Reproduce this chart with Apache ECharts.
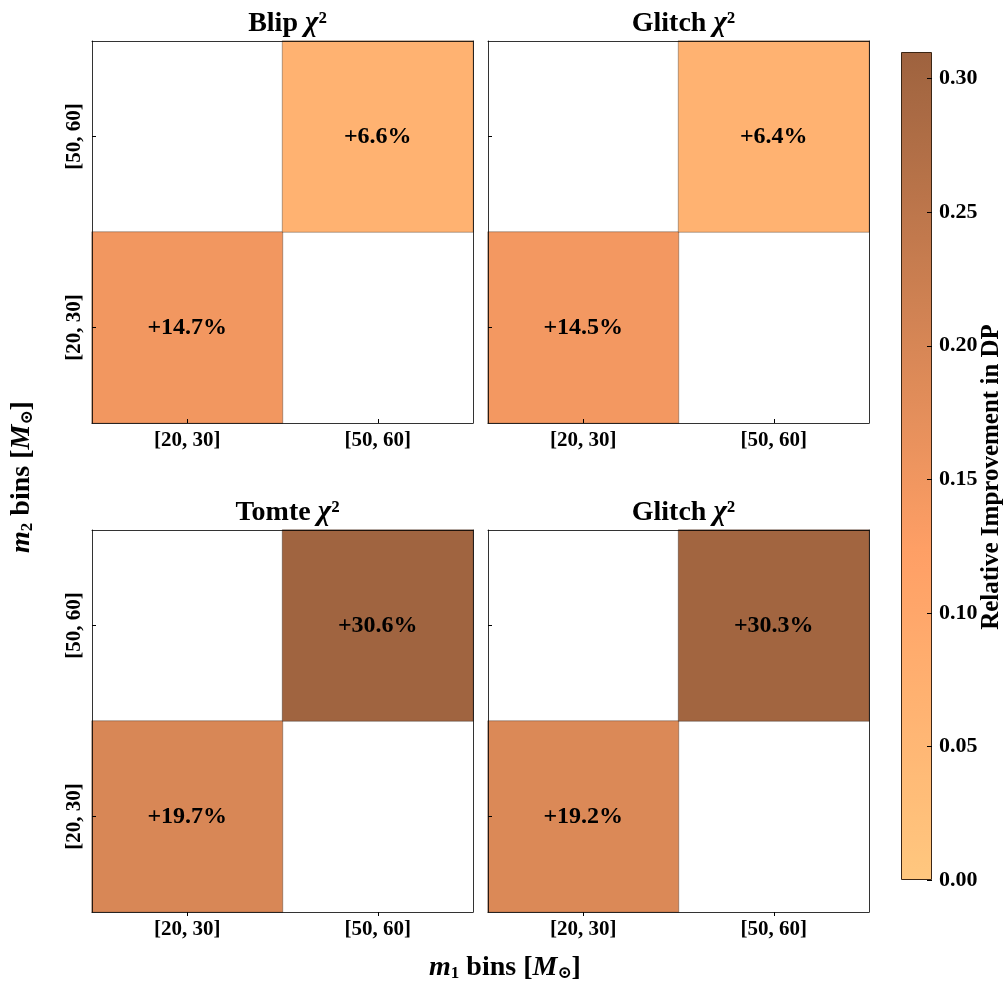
<!DOCTYPE html>
<html>
<head>
<meta charset="utf-8">
<script src="https://cdn.jsdelivr.net/npm/echarts@6/dist/echarts.min.js"></script>
<style>html,body{margin:0;padding:0;background:#fff}#c{width:1007px;height:987px}</style>
</head>
<body>
<div id="c"></div>
<script>
// ---- data ----
const xCats = ['[20, 30]', '[50, 60]'];
const yCats = ['[20, 30]', '[50, 60]'];
const panelTitles = ['Blip', 'Glitch', 'Tomte', 'Glitch'];
const lowBinValues = [0.147, 0.145, 0.197, 0.192];   // m1 [20,30], m2 [20,30]
const highBinValues = [0.066, 0.064, 0.306, 0.303];  // m1 [50,60], m2 [50,60]
const cbMin = 0;
const cbMax = 0.31;
const cbInterval = 0.05;

// ---- style ----
const SERIF = '"Liberation Serif", "DejaVu Serif", serif';
const CMAP_NORM = 0.613; // copper_r normalisation span
function copperR(v) {
  const x = 1 - v / CMAP_NORM;
  const r = Math.min(1, 1.25 * x), g = 0.7812 * x, b = 0.4975 * x;
  return 'rgb(' + Math.round(r * 255) + ',' + Math.round(g * 255) + ',' + Math.round(b * 255) + ')';
}
const N = 40;
const cmapColors = [];
for (let k = 0; k <= N; k++) cmapColors.push(copperR(cbMin + (cbMax - cbMin) * k / N));
const gradStops = cmapColors.map((c, k) => ({ offset: 1 - k / N, color: c })).reverse();

const panels = [
  { left: 92, top: 41 }, { left: 488, top: 41 },
  { left: 92, top: 530 }, { left: 488, top: 530 }
];
const PW = 381, PH = 382;
const SPINE = 'rgba(0,0,0,0.8)';

const grid = [], xAxis = [], yAxis = [], series = [], title = [];
panels.forEach((p, i) => {
  grid.push({ left: p.left, top: p.top, width: PW, height: PH });
  const bottomRow = i >= 2, leftCol = i % 2 === 0;
  xAxis.push({
    type: 'category', data: xCats, gridIndex: i, position: 'bottom', z: 10,
    axisLine: { show: true, lineStyle: { color: SPINE, width: 1 } },
    axisTick: { show: true, alignWithLabel: true, inside: !bottomRow, length: 4, lineStyle: { color: '#000' } },
    axisLabel: { show: true, margin: 7, color: '#000', fontFamily: SERIF, fontWeight: 'bold', fontSize: 21 },
    splitLine: { show: false }
  });
  xAxis.push({
    type: 'category', data: xCats, gridIndex: i, position: 'top', z: 10,
    axisLine: { show: true, lineStyle: { color: SPINE, width: 1 } },
    axisTick: { show: false }, axisLabel: { show: false }, splitLine: { show: false }
  });
  yAxis.push({
    type: 'category', data: yCats, gridIndex: i, position: 'left', z: 10,
    axisLine: { show: true, lineStyle: { color: SPINE, width: 1 } },
    axisTick: { show: true, alignWithLabel: true, inside: true, length: 4, lineStyle: { color: '#000' } },
    axisLabel: { show: leftCol, rotate: 90, margin: 7, color: '#000', fontFamily: SERIF, fontWeight: 'bold', fontSize: 21 },
    splitLine: { show: false }
  });
  yAxis.push({
    type: 'category', data: yCats, gridIndex: i, position: 'right', z: 10,
    axisLine: { show: true, lineStyle: { color: SPINE, width: 1 } },
    axisTick: { show: false }, axisLabel: { show: false }, splitLine: { show: false }
  });
  series.push({
    type: 'heatmap', xAxisIndex: 2 * i, yAxisIndex: 2 * i,
    data: [[0, 0, lowBinValues[i]], [1, 1, highBinValues[i]]],
    itemStyle: { borderColor: 'rgba(0,0,0,0.3)', borderWidth: 1 },
    label: {
      show: true, color: '#000', fontFamily: SERIF, fontWeight: 'bold', fontSize: 24,
      formatter: (q) => '+' + (q.value[2] * 100).toFixed(1) + '%'
    },
    emphasis: { disabled: true }, silent: true
  });
  title.push({
    text: '{a|' + panelTitles[i] + ' }{b|χ}{a|²}',
    left: p.left + PW / 2, top: p.top - 37, textAlign: 'center',
    textStyle: {
      rich: {
        a: { fontFamily: SERIF, fontWeight: 'bold', fontSize: 28, color: '#000' },
        b: { fontFamily: SERIF, fontWeight: 'bold', fontStyle: 'italic', fontSize: 29, color: '#000' }
      }
    }
  });
});

// colorbar
grid.push({ left: 901, top: 52, width: 31, height: 828 });
xAxis.push({ type: 'category', data: [''], gridIndex: 4, show: false, boundaryGap: true });
yAxis.push({
  type: 'value', gridIndex: 4, min: cbMin, max: cbMax, interval: cbInterval, position: 'right', z: 10,
  axisLine: { show: false },
  axisTick: { show: true, inside: true, length: 5, lineStyle: { color: '#000' } },
  axisLabel: { show: true, showMaxLabel: false, margin: 7, color: '#000', fontFamily: SERIF, fontWeight: 'bold', fontSize: 22,
    formatter: (v) => v.toFixed(2) },
  splitLine: { show: false }
});
series.push({
  type: 'bar', xAxisIndex: 8, yAxisIndex: 8, data: [cbMax], barWidth: '100%', silent: true,
  itemStyle: {
    color: { type: 'linear', x: 0, y: 0, x2: 0, y2: 1, colorStops: gradStops },
    borderColor: '#3b2615', borderWidth: 1
  }
});

const labelRich = {
  i: { fontFamily: SERIF, fontWeight: 'bold', fontStyle: 'italic', fontSize: 28, fill: '#000' },
  s: { fontFamily: SERIF, fontWeight: 'bold', fontSize: 17, fill: '#000', verticalAlign: 'bottom', padding: [10, 0, 0, 0] },
  n: { fontFamily: SERIF, fontWeight: 'bold', fontSize: 28, fill: '#000' }
};

const chart = echarts.init(document.getElementById('c'), null, { renderer: 'canvas' });
chart.setOption({
  animation: false,
  backgroundColor: '#fff',
  title: title,
  grid: grid,
  xAxis: xAxis,
  yAxis: yAxis,
  visualMap: { type: 'continuous', show: false, min: cbMin, max: cbMax, seriesIndex: [0, 1, 2, 3], inRange: { color: cmapColors } },
  series: series,
  graphic: [
    {
      type: 'text', x: 22, y: 477, rotation: Math.PI / 2,
      style: { text: '{i|m}{s|2}{n| bins [}{i|M}{s|⊙}{n|]}', align: 'center', verticalAlign: 'middle', rich: labelRich }
    },
    {
      type: 'text', x: 505, y: 968,
      style: { text: '{i|m}{s|1}{n| bins [}{i|M}{s|⊙}{n|]}', align: 'center', verticalAlign: 'middle', rich: labelRich }
    },
    {
      type: 'text', x: 992, y: 477, rotation: Math.PI / 2,
      style: { text: 'Relative Improvement in DP', align: 'center', verticalAlign: 'middle',
        font: 'bold 25px ' + SERIF, fill: '#000' }
    }
  ]
});
</script>
</body>
</html>
